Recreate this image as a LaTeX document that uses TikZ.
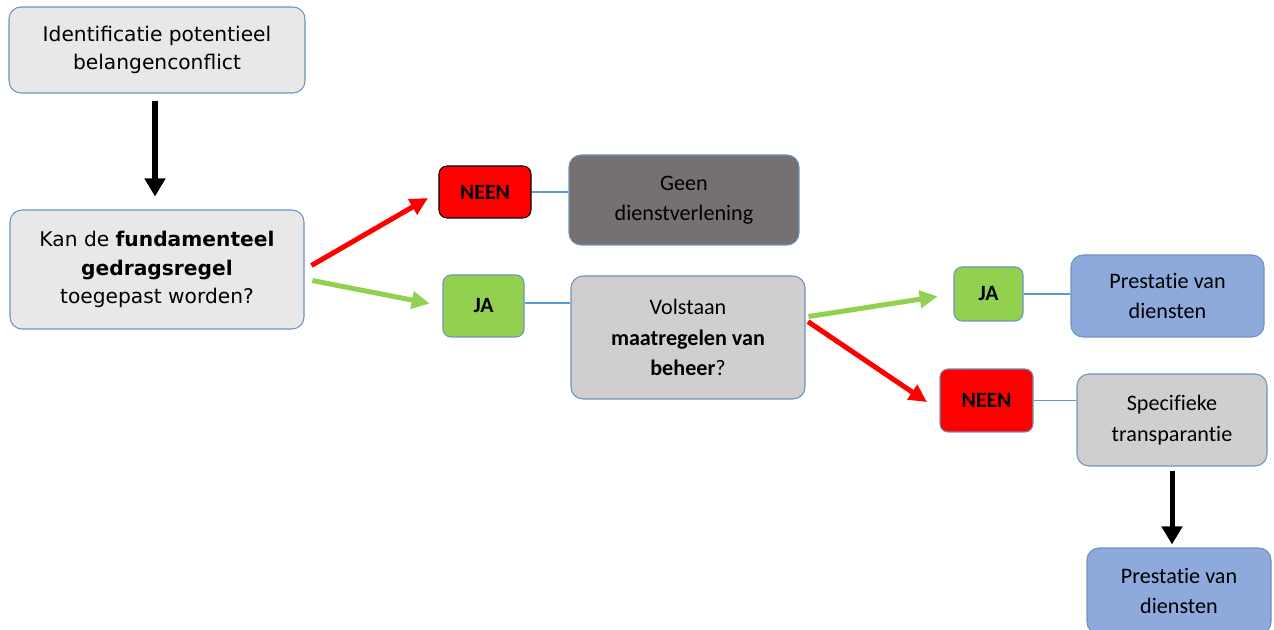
\documentclass[tikz,border=0pt]{standalone}
\usepackage{fontspec}
\setmainfont{Carlito}[Ligatures=NoCommon]
\newfontfamily\verdfont{DejaVu Sans}
\usepackage{xcolor}
\usepackage{tikz}
\usetikzlibrary{arrows.meta, positioning, calc}

\definecolor{boxlijn}{HTML}{6D93BD}
\definecolor{lichtgrijs}{HTML}{E8E8E8}
\definecolor{middengrijs}{HTML}{D0CECE}
\definecolor{donkergrijs}{HTML}{767171}
\definecolor{jagroen}{HTML}{92D050}
\definecolor{neenrood}{HTML}{FF0000}
\definecolor{dienstblauw}{HTML}{8EA9DB}
\definecolor{verbindblauw}{HTML}{5B9BD5}

\begin{document}
\begin{tikzpicture}[
    every text node part/.style={align=center},
    basisbox/.style={draw=boxlijn, line width=0.6pt, rounded corners=0.24cm, inner sep=0pt},
    vraagbox/.style={basisbox, fill=lichtgrijs, font=\verdfont\fontsize{11.5}{16}\selectfont},
    grijsbox/.style={basisbox, fill=middengrijs, font=\fontsize{12.6}{17.5}\selectfont},
    dienstbox/.style={basisbox, fill=dienstblauw, font=\fontsize{12.6}{17}\selectfont},
    jabox/.style={basisbox, rounded corners=0.16cm, fill=jagroen, font=\bfseries\fontsize{12.4}{15}\selectfont},
    neenbox/.style={basisbox, rounded corners=0.16cm, fill=neenrood, font=\bfseries\fontsize{12.4}{15}\selectfont},
    verbind/.style={draw=verbindblauw, line width=0.6pt},
    zwartpijl/.style={line width=2.85pt, black, -{Triangle[length=0.36cm, width=0.4cm]}},
    jaPijl/.style={line width=2.85pt, jagroen, -{Triangle[length=0.36cm, width=0.34cm]}},
    neenPijl/.style={line width=2.85pt, neenrood, -{Triangle[length=0.36cm, width=0.34cm]}}
]
\useasboundingbox (0,0) rectangle (25.48,12.58);

% ==================== LINKER KOLOM ====================
\node[vraagbox, minimum width=5.92cm, minimum height=1.72cm] (ident) at (3.14, 11.58)
    {Identificatie potentieel\\belangenconflict};
\node[vraagbox, minimum width=5.88cm, minimum height=2.38cm] (fund) at (3.14, 7.19)
    {Kan de \textbf{fundamenteel}\\\textbf{gedragsregel}\\toegepast worden?};

% ==================== EERSTE BESLISSING ====================
\node[neenbox, draw=black, minimum width=1.84cm, minimum height=1.04cm] (neen1) at (9.70, 8.74) {NEEN};
\node[basisbox, fill=donkergrijs, font=\fontsize{12.6}{17}\selectfont,
      minimum width=4.60cm, minimum height=1.80cm] (geen) at (13.68, 8.58) {Geen\\dienstverlening};
\node[jabox, minimum width=1.62cm, minimum height=1.24cm] (ja1) at (9.67, 6.46) {JA};
\node[grijsbox, minimum width=4.68cm, minimum height=2.46cm] (volstaan) at (13.76, 5.83)
    {Volstaan\\\textbf{maatregelen van}\\\textbf{beheer}?};

% ==================== TWEEDE BESLISSING ====================
\node[jabox, minimum width=1.38cm, minimum height=1.08cm] (ja2) at (19.77, 6.70) {JA};
\node[dienstbox, minimum width=3.86cm, minimum height=1.64cm] (prest1) at (23.35, 6.66) {Prestatie van\\diensten};
\node[neenbox, minimum width=1.86cm, minimum height=1.26cm] (neen2) at (19.73, 4.57) {NEEN};
\node[grijsbox, minimum width=3.80cm, minimum height=1.84cm] (specif) at (23.44, 4.18) {Specifieke\\transparantie};
\node[dienstbox, minimum width=3.68cm, minimum height=1.72cm] (prest2) at (23.58, 0.76) {Prestatie van\\diensten};

% Pijlen
\draw[zwartpijl, shorten <=0.14cm, shorten >=0.26cm] ([xshift=-0.04cm]ident.south) -- ([xshift=-0.04cm]fund.north);
\draw[neenPijl, shorten <=0.16cm, shorten >=0.24cm] (fund.east) -- (neen1.west);
\draw[jaPijl, shorten <=0.16cm, shorten >=0.26cm] ([yshift=-0.19cm]fund.east) -- (ja1.west);
\draw[jaPijl, shorten <=0.06cm, shorten >=0.32cm] ([yshift=0.41cm]volstaan.east) -- (ja2.west);
\draw[neenPijl, shorten <=0.06cm, shorten >=0.3cm] ([yshift=0.35cm]volstaan.east) -- ([yshift=-0.2cm]neen2.west);
\draw[zwartpijl, shorten <=0.08cm, shorten >=0.06cm] (specif.south) -- (specif.south |- prest2.north);

% Verbindingslijnen
\draw[verbind] (neen1.east) -- (neen1.east -| geen.west);
\draw[verbind] ([yshift=0.06cm]ja1.east) -- ([yshift=0.06cm]ja1.east -| volstaan.west);
\draw[verbind] (ja2.east) -- (ja2.east -| prest1.west);
\draw[verbind] (neen2.east) -- (neen2.east -| specif.west);

\end{tikzpicture}
\end{document}
